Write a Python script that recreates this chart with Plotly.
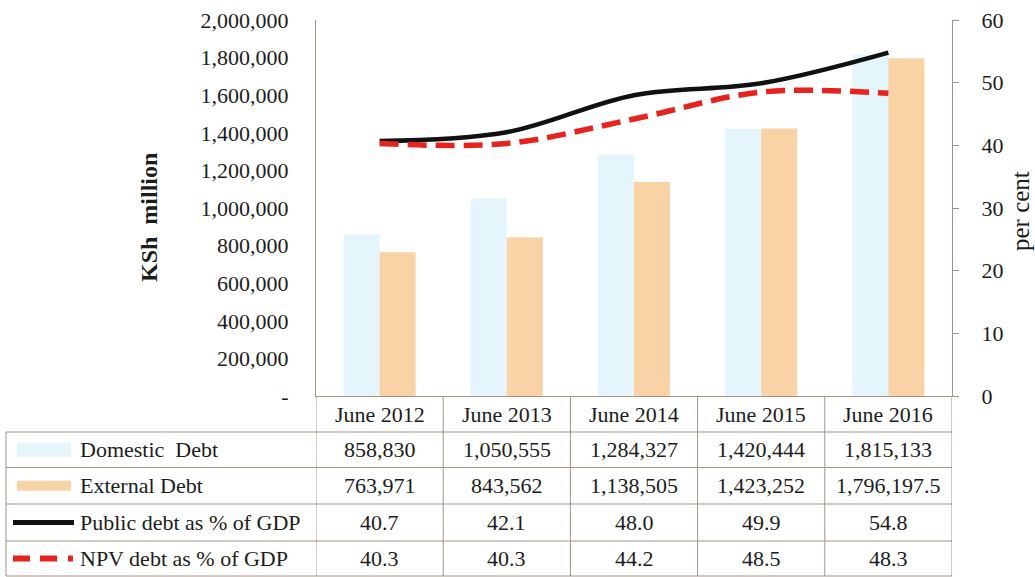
import plotly.graph_objects as go

# ---------------- data ----------------
categories = ["June 2012", "June 2013", "June 2014", "June 2015", "June 2016"]
domestic_debt = [858830, 1050555, 1284327, 1420444, 1815133]
external_debt = [763971, 843562, 1138505, 1423252, 1796197.5]
public_debt_pct = [40.7, 42.1, 48.0, 49.9, 54.8]
npv_debt_pct = [40.3, 40.3, 44.2, 48.5, 48.3]
series_names = ["Domestic  Debt", "External Debt", "Public debt as % of GDP", "NPV debt as % of GDP"]
left_ticks = [0, 200000, 400000, 600000, 800000, 1000000, 1200000, 1400000, 1600000, 1800000, 2000000]

# ---------------- style ----------------
FONT = "Liberation Serif"
TXT = "#1c1c1c"
LINE = "#a39382"
C_DOM = "#e4f6fc"
C_EXT = "#f9d2a6"
C_PUB = "#111111"
C_NPV = "#e8231e"

W, H = 1035, 577
L, R, T, B = 316, 952, 20, 396  # plot area in pixels


def px_x(p):
    return (p - L) / (R - L)


def px_y(p):
    return (B - p) / (B - T)


def fmt_money(v):
    return f"{v:,.0f}" if float(v).is_integer() else f"{v:,.1f}"


fig = go.Figure()
fig.add_trace(go.Bar(x=categories, y=domestic_debt, name=series_names[0],
                     marker=dict(color=C_DOM, line=dict(width=0))))
fig.add_trace(go.Bar(x=categories, y=external_debt, name=series_names[1],
                     marker=dict(color=C_EXT, line=dict(width=0))))
fig.add_trace(go.Scatter(x=categories, y=public_debt_pct, name=series_names[2], yaxis="y2",
                         mode="lines", line=dict(color=C_PUB, width=4.5, shape="spline", smoothing=1.0)))
fig.add_trace(go.Scatter(x=categories, y=npv_debt_pct, name=series_names[3], yaxis="y2",
                         mode="lines", line=dict(color=C_NPV, width=5.5, shape="spline", smoothing=1.0,
                                                 dash="19px,9px")))

shapes = []
annotations = []

# table rows (pixel y boundaries)
row_edges = [B, 432, 467.5, 504, 541, 576]
n = len(categories)
# vertical lines in data columns
for i in range(n + 1):
    shapes.append(dict(type="line", xref="x", yref="paper", x0=i - 0.5, x1=i - 0.5,
                       y0=px_y(row_edges[0]), y1=px_y(row_edges[-1]),
                       line=dict(color=LINE, width=1)))
# left border of label column
shapes.append(dict(type="line", xref="paper", yref="paper", x0=px_x(6), x1=px_x(6),
                   y0=px_y(row_edges[1]), y1=px_y(row_edges[-1]), line=dict(color=LINE, width=1)))
# horizontal lines
for j, e in enumerate(row_edges[1:]):
    shapes.append(dict(type="line", xref="paper", yref="paper", x0=px_x(6), x1=1.0,
                       y0=px_y(e), y1=px_y(e), line=dict(color=LINE, width=1)))

# header row
hc = (row_edges[0] + row_edges[1]) / 2
for c in categories:
    annotations.append(dict(x=c, xref="x", y=px_y(hc), yref="paper", text=c, showarrow=False,
                            font=dict(family=FONT, size=22, color=TXT), xanchor="center", yanchor="middle"))

rows = [
    [fmt_money(v) for v in domestic_debt],
    [fmt_money(v) for v in external_debt],
    [f"{v:.1f}" for v in public_debt_pct],
    [f"{v:.1f}" for v in npv_debt_pct],
]
for r, vals in enumerate(rows):
    yc = (row_edges[r + 1] + row_edges[r + 2]) / 2
    for c, t in zip(categories, vals):
        annotations.append(dict(x=c, xref="x", y=px_y(yc), yref="paper", text=t, showarrow=False,
                                font=dict(family=FONT, size=22, color=TXT), xanchor="center", yanchor="middle"))
    annotations.append(dict(x=px_x(78), xref="paper", y=px_y(yc), yref="paper", text=series_names[r],
                            showarrow=False, font=dict(family=FONT, size=22, color=TXT),
                            xanchor="left", yanchor="middle"))

# legend keys
yc0 = (row_edges[1] + row_edges[2]) / 2
yc1 = (row_edges[2] + row_edges[3]) / 2
yc2 = (row_edges[3] + row_edges[4]) / 2
yc3 = (row_edges[4] + row_edges[5]) / 2
shapes.append(dict(type="rect", xref="paper", yref="paper", x0=px_x(17), x1=px_x(71),
                   y0=px_y(yc0 + 7), y1=px_y(yc0 - 7), fillcolor=C_DOM, line=dict(width=0)))
shapes.append(dict(type="rect", xref="paper", yref="paper", x0=px_x(17), x1=px_x(71),
                   y0=px_y(yc1 + 5), y1=px_y(yc1 - 5), fillcolor=C_EXT, line=dict(width=0)))
shapes.append(dict(type="line", xref="paper", yref="paper", x0=px_x(13), x1=px_x(74),
                   y0=px_y(yc2), y1=px_y(yc2), line=dict(color=C_PUB, width=5)))
for a, b in [(13, 30), (40, 57), (68, 73)]:
    shapes.append(dict(type="line", xref="paper", yref="paper", x0=px_x(a), x1=px_x(b),
                       y0=px_y(yc3), y1=px_y(yc3), line=dict(color=C_NPV, width=6)))

# axis titles
annotations.append(dict(x=px_x(149), xref="paper", y=px_y(218), yref="paper", text="<b>KSh  million</b>",
                        textangle=-90, showarrow=False, font=dict(family=FONT, size=24, color=TXT),
                        xanchor="center", yanchor="middle"))
annotations.append(dict(x=px_x(1020), xref="paper", y=px_y(211), yref="paper", text="per cent",
                        textangle=-90, showarrow=False, font=dict(family=FONT, size=25, color=TXT),
                        xanchor="center", yanchor="middle"))

fig.update_layout(
    width=W, height=H,
    margin=dict(l=L, r=W - R, t=T, b=H - B, autoexpand=False),
    paper_bgcolor="white", plot_bgcolor="white",
    showlegend=False,
    barmode="group", bargap=0.434, bargroupgap=0.0,
    font=dict(family=FONT, size=22, color=TXT),
    xaxis=dict(type="category", range=[-0.5, n - 0.5], showticklabels=False, ticks="",
               showline=True, linecolor=LINE, linewidth=1, showgrid=False, zeroline=False),
    yaxis=dict(range=[0, 2000000], tickvals=left_ticks,
               ticktext=["-" if v == 0 else f"{v:,}" for v in left_ticks],
               showline=True, linecolor=LINE, linewidth=1, showgrid=False, zeroline=False,
               ticks="", ticklabelstandoff=22, tickfont=dict(family=FONT, size=22, color=TXT)),
    yaxis2=dict(range=[0, 60], dtick=10, overlaying="y", side="right",
                showline=True, linecolor=LINE, linewidth=1, showgrid=False, zeroline=False,
                ticks="outside", ticklen=6, tickcolor=LINE, ticklabelstandoff=18,
                tickfont=dict(family=FONT, size=22, color=TXT)),
    shapes=shapes,
    annotations=annotations,
)

fig.write_html("out.html", config={"displayModeBar": False},
               post_script="document.body.style.margin='0';document.body.style.overflow='hidden';")
